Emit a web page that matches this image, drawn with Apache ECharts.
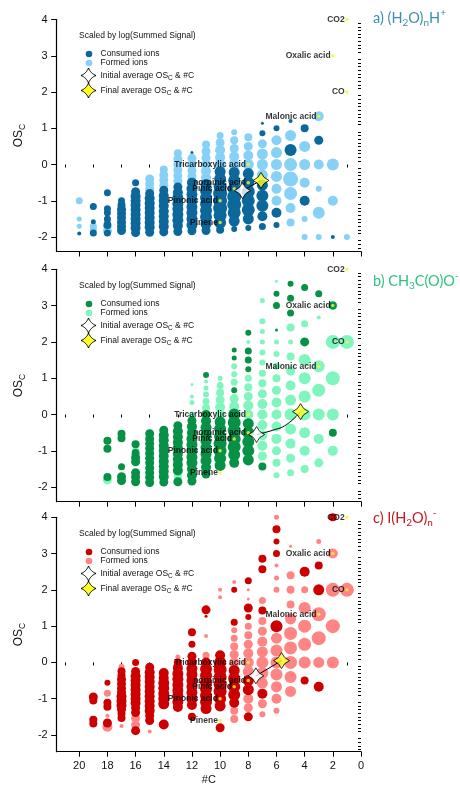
<!DOCTYPE html>
<html><head><meta charset="utf-8">
<script src="https://cdn.jsdelivr.net/npm/echarts@6/dist/echarts.min.js"></script>
<style>html,body{margin:0;padding:0;background:#fff}#c{width:460px;height:785px}</style>
</head><body><div id="c"></div>
<script>
// ---------- tick labels ----------
const xTickLabels = [0, 2, 4, 6, 8, 10, 12, 14, 16, 18, 20];
const yTickLabels = [-2, -1, 0, 1, 2, 3, 4];

// ---------- labelled compounds [#C, OSc] ----------
const compoundNames = ['CO2', 'Oxalic acid', 'CO', 'Malonic acid', 'Tricarboxylic acid', 'norpinic acid', 'Pinic acid', 'Pinonic acid', 'Pinene'];
const compoundC = [1, 2, 1, 3, 8, 8, 9, 10, 10];
const compoundOS = [4, 3, 2, 1.33, 0, -0.5, -0.67, -1, -1.6];

// ---------- average OSc & #C trajectories [#C, OSc] (initial -> final) ----------
const avgPathA = [[8.41, -0.72], [7.1, -0.44]];
const avgPathB = [[7.41, -0.55], [6.25, -0.43], [5.3, -0.28], [4.29, 0.08]];
const avgPathC = [[7.46, -0.37], [5.64, 0.05]];

// ---------- ions: [#C, OSc, log(summed signal) level] ----------
const consumedA = [
 [20,-1.9,2],
 [19,-1.16,3.5],[19,-1.58,2.5],[19,-1.89,3.5],
 [18,-0.78,3.5],[18,-1.22,3.5],[18,-1.33,3.5],[18,-1.5,3.5],[18,-1.67,4],[18,-1.89,3.5],
 [17,-1.0,3.5],[17,-1.12,4],[17,-1.24,4.5],[17,-1.35,4.5],[17,-1.47,4.5],[17,-1.59,4.5],[17,-1.71,4.5],[17,-1.82,4.5],
 [16,-0.5,3.5],[16,-0.75,4.5],[16,-0.88,5],[16,-1.0,5],[16,-1.12,5],[16,-1.25,5],[16,-1.38,5],[16,-1.5,5],[16,-1.62,5],[16,-1.75,5],[16,-1.88,4.5],
 [15,-0.8,4.5],[15,-0.93,5],[15,-1.07,5],[15,-1.2,5],[15,-1.33,5],[15,-1.47,5],[15,-1.6,5],[15,-1.73,5],[15,-1.87,4.5],
 [14,-0.71,4.5],[14,-0.86,5],[14,-1.0,5],[14,-1.14,5],[14,-1.29,5],[14,-1.43,5],[14,-1.57,5],[14,-1.71,5],[14,-1.86,4.5],
 [13,-0.62,4.5],[13,-0.77,5],[13,-0.92,5.5],[13,-1.08,5.5],[13,-1.23,5.5],[13,-1.38,5.5],[13,-1.54,5.5],[13,-1.69,5],[13,-1.85,4.5],
 [12,0.33,1.5],[12,-0.5,5],[12,-0.67,5.5],[12,-0.83,5.5],[12,-1.0,5.5],[12,-1.17,5.5],[12,-1.33,5.5],[12,-1.5,5.5],[12,-1.67,5.5],[12,-1.83,4.5],
 [11,-0.55,5.5],[11,-0.73,6],[11,-0.91,6],[11,-1.09,6],[11,-1.27,6],[11,-1.45,6],[11,-1.64,5.5],[11,-1.82,4.5],
 [10,-0.2,5.5],[10,-0.4,6],[10,-0.6,6.5],[10,-0.8,7],[10,-1.0,7],[10,-1.2,7],[10,-1.4,6.5],[10,-1.6,6],[10,-1.8,4],
 [9,-0.22,5.5],[9,-0.44,6],[9,-0.67,6.5],[9,-0.89,7],[9,-1.11,7],[9,-1.33,6.5],[9,-1.56,5.5],[9,-1.78,3],
 [8,-0.25,5.5],[8,-0.5,6],[8,-0.75,6.5],[8,-1.0,6.5],[8,-1.25,6.5],[8,-1.5,5.5],[8,-1.75,3],
 [7,1.14,1.5],[7,0.86,3],[7,-0.57,5.5],[7,-0.86,6],[7,-1.14,6],[7,-1.43,5],[7,-1.71,3.5],
 [6,1.0,3],[6,-1.33,5],[6,-1.67,3],
 [5,1.2,2],[5,0.4,6],
 [4,1.0,4],[4,-1.0,5],
 [3,0.67,4.5],
 [2,-2.0,2]
];
const formedA = [
 [20,-1.0,3.5],[20,-1.5,2.5],[20,-1.7,2.5],
 [19,-1.7,3.5],[19,-1.8,3.5],
 [18,-1.56,3.5],[18,-1.72,4],[18,-1.83,4.5],
 [17,-1.65,3.5],[17,-1.76,3.5],
 [15,-0.4,4.5],[15,-0.53,4.5],[15,-0.67,4.5],
 [14,-0.14,4],[14,-0.29,4.5],[14,-0.43,4.5],[14,-0.57,4.5],
 [13,0.31,4],[13,0.15,4.5],[13,0.0,4.5],[13,-0.15,4.5],[13,-0.31,4.5],[13,-0.46,4.5],
 [12,0.17,4.5],[12,0.0,4.5],[12,-0.17,4.5],[12,-0.33,4.5],
 [11,0.55,4],[11,0.36,4.5],[11,0.18,4.5],[11,0.0,5],[11,-0.18,5],[11,-0.36,5],
 [10,0.8,3.5],[10,0.6,4.5],[10,0.4,5],[10,0.2,5],[10,0.0,5.5],
 [9,0.89,3],[9,0.67,4],[9,0.44,4.5],[9,0.22,5],[9,0.0,5.5],
 [8,0.75,4],[8,0.5,4.5],[8,0.25,5],[8,0.0,5.5],
 [7,0.57,4.5],[7,0.29,5.5],[7,0.0,5.5],[7,-0.29,5.5],
 [6,0.67,5],[6,0.33,5.5],[6,0.0,5.5],[6,-0.33,5.5],[6,-0.67,5],[6,-1.0,5],
 [5,0.8,5.5],[5,0.0,6.5],[5,-0.4,7.5],[5,-0.8,6.5],[5,-1.2,5],[5,-1.6,4],
 [4,0.5,5.5],[4,0.0,5.5],[4,-0.5,5],[4,-1.5,3],[4,-2.0,3],
 [3,1.33,5],[3,0.0,5],[3,-0.67,3],[3,-1.33,6],[3,-2.0,3],
 [2,0.0,6],[2,-1.0,5],
 [1,-2.0,3]
];
const consumedB = [
 [18,-0.72,4],[18,-0.94,4],[18,-1.72,4],
 [17,-0.53,4],[17,-0.65,4],[17,-1.44,3.5],[17,-1.71,4.5],[17,-1.82,4.5],
 [16,-0.82,4],[16,-1.06,4],[16,-1.18,4.5],[16,-1.3,4.5],[16,-1.6,4.5],[16,-1.72,4.5],[16,-1.85,4.5],
 [15,-0.53,4.5],[15,-0.67,4.5],[15,-0.8,4.5],[15,-0.93,4.5],[15,-1.07,4.5],[15,-1.2,4.5],[15,-1.33,4.5],[15,-1.47,4.5],[15,-1.6,4.5],[15,-1.73,4.5],[15,-1.87,4.5],
 [14,-0.43,4.5],[14,-0.57,5],[14,-0.71,5],[14,-0.86,5],[14,-1.0,5],[14,-1.14,5],[14,-1.29,5],[14,-1.43,5],[14,-1.57,5],[14,-1.71,5],[14,-1.86,4.5],
 [13,-0.31,4.5],[13,-0.46,5],[13,-0.62,5],[13,-0.77,5],[13,-0.92,5],[13,-1.08,5],[13,-1.23,5],[13,-1.38,5],[13,-1.54,5],[13,-1.85,4.5],
 [12,-0.17,4.5],[12,-0.33,5],[12,-0.5,5],[12,-0.67,5.5],[12,-0.83,5.5],[12,-1.0,5.5],[12,-1.17,5.5],[12,-1.33,5.5],[12,-1.5,5],[12,-1.67,5],[12,-1.83,4.5],
 [11,1.09,3],[11,0.0,4.5],[11,-0.18,5],[11,-0.36,5.5],[11,-0.55,5.5],[11,-0.73,5.5],[11,-0.91,5.5],[11,-1.09,5.5],[11,-1.27,5.5],[11,-1.45,5],[11,-1.64,4.5],
 [10,-0.2,5.5],[10,-0.4,6],[10,-0.6,6],[10,-0.8,6.5],[10,-1.0,6.5],[10,-1.2,6],[10,-1.4,5.5],
 [9,1.78,2.5],[9,1.56,2.5],[9,0.67,3],[9,0.0,6],[9,-0.22,6.5],[9,-0.44,6.5],[9,-0.67,6.5],[9,-0.89,6.5],[9,-1.11,6],[9,-1.33,5],
 [8,2.25,3],[8,1.75,3.5],[8,1.5,3.5],[8,1.25,3],[8,-0.25,5.5],[8,-0.5,6],[8,-0.75,6],[8,-1.0,6],[8,-1.25,5.5],
 [7,-1.43,4],
 [6,3.33,3],[6,3.0,3.5],[6,2.33,1.5],
 [5,3.6,3],[5,3.2,3.5],[5,2.8,3.5],
 [4,3.5,3.5],[4,2.0,4.5],
 [3,3.33,3.5],
 [2,3.0,4],[2,-0.5,4]
];
const formedB = [
 [18,-1.8,4.5],
 [16,-1.0,3.5],
 [13,-1.69,4],
 [12,0.83,1.5],[12,0.5,2],[12,0.33,2.5],[12,0.0,3],
 [11,0.91,2],[11,0.73,2.5],[11,0.55,3],[11,0.36,3.5],[11,0.18,4],
 [10,1.0,2.5],[10,0.8,3.5],[10,0.6,4],[10,0.4,4.5],[10,0.2,5],[10,0.0,5],
 [9,1.33,3],[9,1.11,3],[9,0.89,3.5],[9,0.44,4.5],[9,0.22,5],
 [8,2.0,2],[8,1.0,3.5],[8,0.75,4],[8,0.5,4.5],[8,0.25,5],[8,0.0,5],
 [7,3.14,2.5],[7,2.57,3],[7,2.29,2.5],[7,2.0,2.5],[7,1.71,3],[7,1.43,3],[7,1.14,3.5],[7,0.86,4],[7,0.57,4.5],[7,0.29,5],[7,0.0,5],[7,-0.29,5],[7,-0.57,5],[7,-0.86,5],[7,-1.14,4.5],
 [6,3.67,1.5],[6,2.0,2.5],[6,1.67,3],[6,1.33,3.5],[6,1.0,4],[6,0.67,4.5],[6,0.33,5],[6,0.0,5],[6,-0.33,5],[6,-0.67,5],[6,-1.0,4.5],[6,-1.33,4],[6,-1.67,3],
 [5,2.4,4],[5,2.0,2.5],[5,1.6,4],[5,1.2,4.5],[5,0.8,5],[5,0.4,5.5],[5,0.0,6],[5,-0.4,5.5],[5,-0.8,5],[5,-1.2,4.5],[5,-1.6,3.5],
 [4,2.5,3.5],[4,1.5,6],[4,1.0,6],[4,0.5,6],[4,0.0,6],[4,-0.5,5.5],[4,-1.0,5],[4,-1.5,4],
 [3,2.67,2],[3,1.33,6],[3,0.67,6.5],[3,0.0,6],[3,-0.67,5],[3,-1.33,4.5],
 [2,3.0,4.5],[2,2.0,7],[2,1.0,7],[2,0.0,6],[2,-1.0,5],
 [1,2.0,7]
];
const consumedC = [
 [19,-0.95,4.5],[19,-1.05,4],[19,-1.58,4],[19,-1.68,4],
 [18,-0.56,3],[18,-1.11,4],[18,-1.22,4],[18,-1.67,4.5],
 [17,-0.24,4],[17,-0.35,4],[17,-0.47,4.5],[17,-0.59,4.5],[17,-0.71,4.5],[17,-0.82,4.5],[17,-0.94,5],[17,-1.06,5],[17,-1.18,5],[17,-1.29,4.5],[17,-1.41,4],[17,-1.53,4],
 [16,0.0,3.5],[16,-0.25,4.5],[16,-0.38,5],[16,-0.5,5],[16,-0.62,5],[16,-0.75,5],[16,-0.88,5],[16,-1.0,5],[16,-1.12,5],[16,-1.25,4.5],[16,-1.38,4.5],[16,-1.88,4.5],
 [15,-0.13,4.5],[15,-0.27,5],[15,-0.4,5],[15,-0.53,5],[15,-0.67,5],[15,-0.8,5],[15,-0.93,5],[15,-1.07,5],[15,-1.2,5],[15,-1.33,5],[15,-1.47,4.5],[15,-1.6,4.5],
 [14,-0.29,5],[14,-0.43,5],[14,-0.57,5.5],[14,-0.71,5.5],[14,-0.86,5.5],[14,-1.0,5.5],[14,-1.14,5.5],[14,-1.71,5],
 [13,0.0,4],[13,-0.15,5],[13,-0.31,5.5],[13,-0.46,5.5],[13,-0.62,5.5],[13,-0.77,5.5],[13,-0.92,5.5],[13,-1.08,5.5],[13,-1.23,5],
 [12,0.83,4],[12,0.5,3.5],[12,0.17,4.5],[12,0.0,5],[12,-0.17,5.5],[12,-0.33,5.5],[12,-0.5,5.5],[12,-0.67,5.5],[12,-0.83,5.5],[12,-1.0,5.5],[12,-1.17,5],[12,-1.5,4],
 [11,1.45,4.5],[11,1.27,1.5],[11,0.0,5],[11,-0.18,6],[11,-0.36,6],[11,-0.55,6],[11,-0.73,6],[11,-0.91,6],[11,-1.09,6],[11,-1.27,5.5],
 [10,0.2,5],[10,0.0,6],[10,-0.2,6.5],[10,-0.4,6.5],[10,-0.6,6.5],[10,-0.8,6.5],[10,-1.0,6],[10,-1.2,5.5],[10,-1.8,4.5],
 [9,2.0,3],[9,1.11,3.5],[9,-0.22,5.5],[9,-0.44,6],[9,-0.67,6],[9,-0.89,6],[9,-1.11,5],
 [8,2.25,3.5],[8,1.5,4.5],[8,1.25,3],[8,-0.5,5.5],[8,-0.75,5.5],[8,-1.5,4.5],
 [7,2.86,4],[7,2.57,4],[7,1.43,4],[7,-0.86,5],
 [6,3.67,4],[6,3.33,3],[6,3.0,3.5],[6,1.0,6],
 [4,2.5,5],[4,-0.5,4],
 [3,2.67,4],[3,2.0,5.5],[3,-0.67,5],
 [2,4.0,4]
];
const formedC = [
 [18,-0.85,3.5],[18,-1.47,2],[18,-1.77,5],
 [17,-0.12,3],[17,-1.75,2],
 [16,-1.54,4.5],[16,-1.72,4.5],
 [15,-1.9,2],
 [13,0.15,2.5],
 [11,0.73,2],[11,0.2,3.5],
 [10,2.0,2],[10,1.8,2],
 [9,2.22,2],[9,0.89,3],[9,0.67,3.5],[9,0.44,4],[9,0.22,4.5],[9,0.0,5],[9,-1.33,4],[9,-1.56,4],
 [8,2.0,1.5],[8,1.75,1.5],[8,1.0,3.5],[8,0.75,4],[8,0.5,4.5],[8,0.25,5],[8,0.0,5.5],[8,-0.25,5.5],[8,-1.0,5],[8,-1.25,4.5],
 [7,1.71,3.5],[7,1.14,4],[7,0.86,4.5],[7,0.57,5],[7,0.29,5.5],[7,0.0,6],[7,-0.29,6],[7,-0.57,5.5],[7,-1.14,4.5],[7,-1.43,3],
 [6,4.0,2.5],[6,2.67,2],[6,2.33,2.5],[6,2.0,3],[6,0.67,5.5],[6,0.33,6],[6,0.0,6],[6,-0.33,6],[6,-0.67,5.5],[6,-1.0,5],[6,-1.33,3],
 [5,3.2,1.5],[5,2.4,4],[5,2.0,4],[5,1.6,4],[5,1.2,5.5],[5,0.8,6.5],[5,0.4,6.5],[5,0.0,6.5],[5,-0.4,6],[5,-0.8,5.5],
 [4,2.0,3.5],[4,1.5,6],[4,1.0,6.5],[4,0.5,6.5],[4,0.0,6],
 [3,3.33,2.5],[3,1.33,7],[3,0.67,7],[3,0.0,5.5],
 [2,3.0,5],[2,2.0,7],[2,1.0,7],[2,0.0,6],
 [1,2.0,7]
];

// ---------- rendering ----------
const FONT = '"Liberation Sans", Arial, sans-serif';
const STAR = 'path://M0,-10Q2.8,-2.8,10,0Q2.8,2.8,0,10Q-2.8,2.8,-10,0Q-2.8,-2.8,0,-10Z';
// polygon outline of the same 4-point star for the legend glyphs
function starPoints(cx, cy, r) {
  const tips = [[0, -r], [r, 0], [0, r], [-r, 0]];
  const pts = [];
  for (let k = 0; k < 4; k++) {
    const a = tips[k], b = tips[(k + 1) % 4];
    const c = [(a[0] + b[0]) * 0.28, (a[1] + b[1]) * 0.28];
    for (let s = 0; s < 8; s++) {
      const t = s / 8, u = 1 - t;
      pts.push([cx + u * u * a[0] + 2 * u * t * c[0] + t * t * b[0], cy + u * u * a[1] + 2 * u * t * c[1] + t * t * b[1]]);
    }
  }
  return pts;
}

const panels = [
  { cons: consumedA, form: formedA, path: avgPathA, cCol: '#0c679a', fCol: '#87d0f6', smooth: false,
    top: 19.5, height: 232, min: -2.4, dy: 0, tCol: '#3d8fb0',
    title: '{m|a) (H}{s|2}{m|O)}{s|n}{m|H}{p|+}', ty: 8 },
  { cons: consumedB, form: formedB, path: avgPathB, cCol: '#079146', fCol: '#80f5be', smooth: 0.5,
    top: 269.3, height: 232.4, min: -2.4, dy: 250, tCol: '#2ec27e',
    title: '{m|b) CH}{s|3}{m|C(O)O}{p|-}', ty: 271 },
  { cons: consumedC, form: formedC, path: avgPathC, cCol: '#cc0000', fCol: '#ff8585', smooth: false,
    top: 517.3, height: 234.4, min: -2.46, dy: 498, tCol: '#c8161d',
    title: '{m|c) I(H}{s|2}{m|O)}{s|n}{p|-}', ty: 508 }
];

const xMinor = []; for (let v = 1; v <= 21; v += 2) xMinor.push(v);
const yMinorFor = (mn) => { const a = []; for (let k = Math.ceil(mn * 10); k <= 40; k++) { if (k % 10 !== 0) a.push(k / 10); } return a; };

const grids = [], xAxes = [], yAxes = [], series = [], graphics = [];
const axisColor = '#000';

panels.forEach((p, i) => {
  grids.push({ left: 56.7, width: 304.3, top: p.top, height: p.height, containLabel: false, outerBoundsMode: 'none' });
  const isLast = i === panels.length - 1;
  xAxes.push({
    gridIndex: i, type: 'value', min: 0, max: 21.6, inverse: true, position: 'bottom',
    axisLine: { show: true, onZero: false, lineStyle: { color: axisColor, width: 1.2 } },
    axisTick: { show: true, customValues: xTickLabels, length: 5, lineStyle: { color: axisColor, width: 1 } },
    axisLabel: { show: isLast, customValues: xTickLabels, margin: 9, fontSize: 11, fontFamily: FONT, color: '#111' },
    splitLine: { show: false },
    name: isLast ? '#C' : '', nameLocation: 'middle', nameGap: 23,
    nameTextStyle: { fontSize: 11, fontFamily: FONT, color: '#111' }
  });
  xAxes.push({
    gridIndex: i, type: 'value', min: 0, max: 21.6, inverse: true, position: 'bottom',
    axisLine: { show: false }, axisLabel: { show: false }, splitLine: { show: false },
    axisTick: { show: true, customValues: xMinor, length: 3, lineStyle: { color: axisColor, width: 1 } }
  });
  yAxes.push({
    gridIndex: i, type: 'value', min: p.min, max: 4, position: 'left',
    axisLine: { show: true, onZero: false, lineStyle: { color: axisColor, width: 1.2 } },
    axisTick: { show: true, customValues: yTickLabels, length: 5.5, lineStyle: { color: axisColor, width: 1 } },
    axisLabel: { show: true, customValues: yTickLabels, margin: 9, fontSize: 11, fontFamily: FONT, color: '#111' },
    splitLine: { show: false },
    name: '{m|OS}{s|C}', nameLocation: 'middle', nameGap: 30, nameRotate: 90,
    nameTextStyle: { fontFamily: FONT, color: '#111',
      rich: { m: { fontSize: 12, lineHeight: 16, fontFamily: FONT, color: '#111' },
              s: { fontSize: 8.5, lineHeight: 8, verticalAlign: 'bottom', fontFamily: FONT, color: '#111' } } }
  });
  yAxes.push({
    gridIndex: i, type: 'value', min: p.min, max: 4, position: 'left',
    axisLine: { show: false }, axisLabel: { show: false }, splitLine: { show: false },
    axisTick: { show: true, customValues: yMinorFor(p.min), length: 3, lineStyle: { color: axisColor, width: 1 } }
  });
  const xi = 2 * i, yi = 2 * i;
  series.push({
    type: 'scatter', xAxisIndex: xi, yAxisIndex: yi, data: p.form, z: 2,
    symbolSize: d => d[2] * 2, itemStyle: { color: p.fCol, opacity: 1 }, emphasis: { disabled: true }, silent: true
  });
  series.push({
    type: 'scatter', xAxisIndex: xi, yAxisIndex: yi, data: p.cons, z: 3,
    symbolSize: d => d[2] * 2, itemStyle: { color: p.cCol, opacity: 1 }, emphasis: { disabled: true }, silent: true
  });
  series.push({
    type: 'scatter', xAxisIndex: xi, yAxisIndex: yi, z: 4, symbolSize: 3.5, silent: true,
    data: compoundNames.map((n, k) => ({ name: n, value: [compoundC[k], compoundOS[k]] })),
    itemStyle: { color: '#f6f52a' },
    label: { show: true, position: 'left', distance: 0.5, formatter: '{b}', fontSize: 8.5, fontWeight: 'bold', fontFamily: FONT, color: '#000' }
  });
  series.push({
    type: 'line', xAxisIndex: xi, yAxisIndex: yi, z: 5, data: p.path, smooth: p.smooth,
    symbol: 'none', showSymbol: false, silent: true, lineStyle: { color: '#000', width: 1 }
  });
  series.push({
    type: 'scatter', xAxisIndex: xi, yAxisIndex: yi, z: 6, data: [p.path[0]], symbol: STAR, symbolSize: 16, silent: true,
    itemStyle: { color: '#ffffff', borderColor: '#000', borderWidth: 1 }
  });
  series.push({
    type: 'scatter', xAxisIndex: xi, yAxisIndex: yi, z: 6, data: [p.path[p.path.length - 1]], symbol: STAR, symbolSize: 16, silent: true,
    itemStyle: { color: '#ffff22', borderColor: '#000', borderWidth: 1 }
  });

  // legend block
  const dy = p.dy;
  const lt = { fontSize: 8.5, fontFamily: FONT, fill: '#111', verticalAlign: 'middle' };
  const rich = { m: { fontSize: 8.5, lineHeight: 12, fontFamily: FONT, fill: '#111' },
                 s: { fontSize: 6.5, lineHeight: 6, verticalAlign: 'bottom', fontFamily: FONT, fill: '#111' } };
  graphics.push({ type: 'text', x: 79, y: 36 + dy, z: 100, style: Object.assign({ text: 'Scaled by log(Summed Signal)' }, lt) });
  graphics.push({ type: 'circle', z: 100, shape: { cx: 89, cy: 54 + dy, r: 3.3 }, style: { fill: p.cCol } });
  graphics.push({ type: 'text', x: 100.5, y: 54 + dy, z: 100, style: Object.assign({ text: 'Consumed ions' }, lt) });
  graphics.push({ type: 'circle', z: 100, shape: { cx: 89, cy: 63 + dy, r: 3.3 }, style: { fill: p.fCol } });
  graphics.push({ type: 'text', x: 100.5, y: 63 + dy, z: 100, style: Object.assign({ text: 'Formed ions' }, lt) });
  graphics.push({ type: 'polygon', z: 100, shape: { points: starPoints(88.5, 75.5 + dy, 7.5) }, style: { fill: '#fff', stroke: '#000', lineWidth: 1 } });
  graphics.push({ type: 'text', x: 100.5, y: 75.5 + dy, z: 100, style: { text: '{m|Initial average OS}{s|C}{m| & #C}', rich: rich, verticalAlign: 'middle', fontSize: 8.5, fontFamily: FONT } });
  graphics.push({ type: 'polygon', z: 100, shape: { points: starPoints(88.5, 90.5 + dy, 7.5) }, style: { fill: '#ffff22', stroke: '#000', lineWidth: 1 } });
  graphics.push({ type: 'text', x: 100.5, y: 90.5 + dy, z: 100, style: { text: '{m|Final average OS}{s|C}{m| & #C}', rich: rich, verticalAlign: 'middle', fontSize: 8.5, fontFamily: FONT } });

  // panel title
  const tf = '"Lato", "Open Sans", sans-serif';
  graphics.push({ type: 'text', x: 373, y: p.ty, z: 100, style: {
    text: p.title, fontSize: 14.5, fontFamily: tf,
    rich: { m: { fontSize: 14.5, lineHeight: 20, fontFamily: tf, fill: p.tCol },
            s: { fontSize: 10, lineHeight: 9, verticalAlign: 'bottom', fontFamily: tf, fill: p.tCol },
            p: { fontSize: 10, lineHeight: 9, verticalAlign: 'top', fontFamily: tf, fill: p.tCol } } } });
});

const chart = echarts.init(document.getElementById('c'), null, { renderer: 'canvas' });
chart.setOption({
  animation: false,
  backgroundColor: '#ffffff',
  grid: grids, xAxis: xAxes, yAxis: yAxes, series: series, graphic: graphics
});
</script></body></html>
